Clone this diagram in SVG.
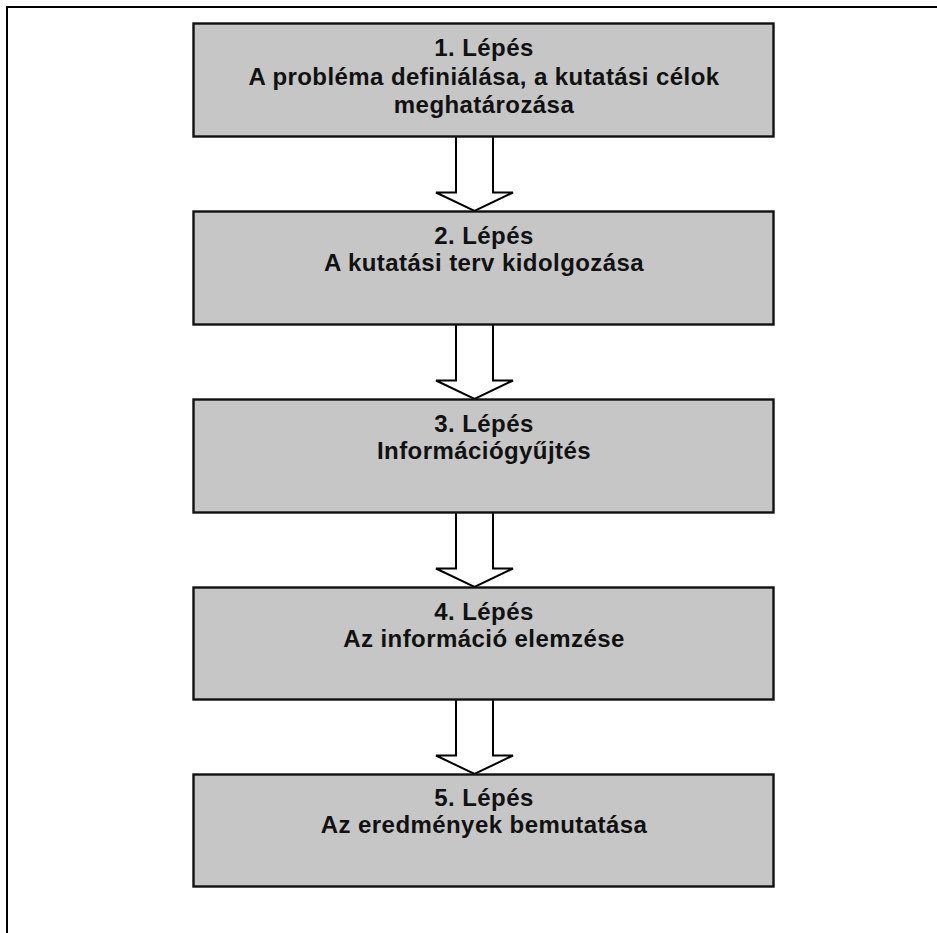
<svg xmlns="http://www.w3.org/2000/svg" width="937" height="933" viewBox="0 0 937 933">
  <style>
    .frame { fill: none; stroke: #000; stroke-width: 2; }
    .step { fill: #c6c6c6; stroke: #111; stroke-width: 2.4; }
    .label { font-family: "Liberation Sans", Arial, sans-serif; font-weight: bold; font-size: 24px; letter-spacing: 0.43px; fill: #111; text-anchor: middle; }
    .arrow { fill: #fff; stroke: #000; stroke-width: 2; stroke-linejoin: miter; }
  </style>
  <defs>
    <!-- hollow block arrow, tip at (0,0), pointing down -->
    <path id="blockArrow" class="arrow" d="M -18.5 -75 L 18.5 -75 L 18.5 -18.5 L 38.5 -18.5 L 0 0 L -38.5 -18.5 L -18.5 -18.5 Z"/>
  </defs>
  <rect width="937" height="933" fill="#fff"/>

  <!-- page frame, open on the right and bottom -->
  <path class="frame" d="M 937 7 L 7 7 L 7 933"/>

  <g id="connectors">
    <use href="#blockArrow" x="474.5" y="211"/>
    <use href="#blockArrow" x="474.5" y="399"/>
    <use href="#blockArrow" x="474.5" y="587"/>
    <use href="#blockArrow" x="474.5" y="774"/>
  </g>

  <g id="step1">
    <rect class="step" x="193.5" y="23.5" width="580" height="113"/>
    <text class="label" x="484" y="56">1. Lépés</text>
    <text class="label" x="484" y="84.5">A probléma definiálása, a kutatási célok</text>
    <text class="label" x="484" y="113">meghatározása</text>
  </g>

  <g id="step2">
    <rect class="step" x="193.5" y="211.5" width="580" height="113"/>
    <text class="label" x="484" y="244">2. Lépés</text>
    <text class="label" x="484" y="271">A kutatási terv kidolgozása</text>
  </g>

  <g id="step3">
    <rect class="step" x="193.5" y="399.5" width="580" height="113"/>
    <text class="label" x="484" y="432">3. Lépés</text>
    <text class="label" x="484" y="459">Információgyűjtés</text>
  </g>

  <g id="step4">
    <rect class="step" x="193.5" y="587.5" width="580" height="112"/>
    <text class="label" x="484" y="619.5">4. Lépés</text>
    <text class="label" x="484" y="647">Az információ elemzése</text>
  </g>

  <g id="step5">
    <rect class="step" x="193.5" y="774.5" width="580" height="112"/>
    <text class="label" x="484" y="806">5. Lépés</text>
    <text class="label" x="484" y="833">Az eredmények bemutatása</text>
  </g>
</svg>
